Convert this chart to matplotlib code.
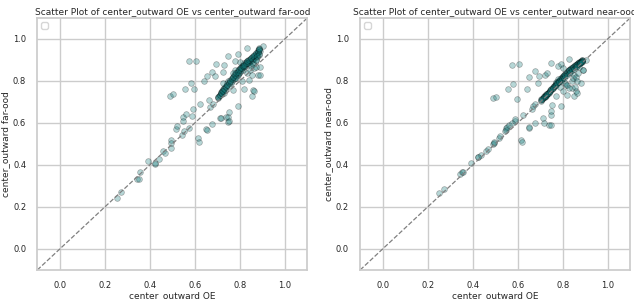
import matplotlib
matplotlib.use("Agg")
import matplotlib.pyplot as plt
import seaborn as sns

sns.set_theme(style="whitegrid")
plt.rcParams['font.family'] = ['DejaVu Sans']

# x: center_outward OE ; far: center_outward far-ood ; near: center_outward near-ood
oe_x = [
    0.252, 0.274, 0.345, 0.352, 0.356, 0.394, 0.422, 0.424, 0.439, 0.459,
    0.468, 0.492, 0.495, 0.496, 0.489, 0.504, 0.516, 0.521, 0.545, 0.548,
    0.548, 0.554, 0.556, 0.560, 0.575, 0.575, 0.581, 0.587, 0.590, 0.596,
    0.607, 0.616, 0.619, 0.622, 0.640, 0.649, 0.652, 0.652, 0.664, 0.667,
    0.676, 0.676, 0.679, 0.689, 0.693, 0.714, 0.717, 0.723, 0.729, 0.740,
    0.748, 0.748, 0.748, 0.751, 0.750, 0.770, 0.779, 0.793, 0.794, 0.818,
    0.830, 0.841, 0.852, 0.859, 0.862, 0.881, 0.904, 0.889, 0.800, 0.815,
    0.702, 0.705, 0.708, 0.712, 0.715, 0.718, 0.720, 0.722, 0.725, 0.728,
    0.730, 0.733, 0.736, 0.740, 0.743, 0.745, 0.748, 0.752, 0.755, 0.758,
    0.760, 0.763, 0.766, 0.770, 0.772, 0.775, 0.778, 0.780, 0.783, 0.786,
    0.790, 0.792, 0.795, 0.798, 0.800, 0.803, 0.806, 0.808, 0.811, 0.814,
    0.817, 0.820, 0.823, 0.826, 0.829, 0.832, 0.835, 0.838, 0.841, 0.844,
    0.847, 0.850, 0.853, 0.856, 0.859, 0.862, 0.865, 0.868, 0.871, 0.874,
    0.877, 0.880, 0.882, 0.884, 0.886, 0.888, 0.885, 0.878, 0.870, 0.860,
    0.790, 0.800, 0.810, 0.820, 0.830, 0.840, 0.845, 0.850, 0.855, 0.860,
    0.865, 0.870, 0.780, 0.770, 0.889, 0.874, 0.722, 0.726, 0.785, 0.830,
    0.704, 0.710, 0.716, 0.724, 0.731, 0.738, 0.744, 0.750, 0.757, 0.764,
    0.771, 0.777, 0.784, 0.791, 0.797, 0.804, 0.812, 0.819, 0.827, 0.834,
    0.842, 0.849, 0.857, 0.864, 0.872, 0.879, 0.883, 0.887, 0.884, 0.876,
]
far_y = [
    0.241, 0.273, 0.335, 0.335, 0.368, 0.421, 0.405, 0.408, 0.427, 0.468,
    0.459, 0.479, 0.519, 0.505, 0.727, 0.738, 0.573, 0.586, 0.544, 0.630,
    0.611, 0.560, 0.762, 0.643, 0.894, 0.575, 0.792, 0.633, 0.665, 0.762,
    0.894, 0.527, 0.510, 0.690, 0.798, 0.570, 0.824, 0.567, 0.711, 0.678,
    0.594, 0.844, 0.690, 0.824, 0.879, 0.624, 0.622, 0.844, 0.876, 0.630,
    0.920, 0.630, 0.606, 0.654, 0.611, 0.757, 0.895, 0.681, 0.929, 0.760,
    0.959, 0.805, 0.729, 0.757, 0.754, 0.829, 0.967, 0.868, 0.892, 0.852,
    0.718, 0.724, 0.730, 0.735, 0.742, 0.748, 0.738, 0.752, 0.760, 0.745,
    0.765, 0.770, 0.758, 0.775, 0.790, 0.782, 0.800, 0.778, 0.795, 0.805,
    0.788, 0.812, 0.800, 0.820, 0.808, 0.830, 0.815, 0.838, 0.825, 0.845,
    0.832, 0.850, 0.840, 0.858, 0.845, 0.865, 0.852, 0.870, 0.860, 0.878,
    0.866, 0.885, 0.872, 0.890, 0.880, 0.895, 0.885, 0.900, 0.890, 0.905,
    0.895, 0.910, 0.900, 0.915, 0.905, 0.920, 0.910, 0.925, 0.918, 0.935,
    0.928, 0.945, 0.938, 0.950, 0.955, 0.942, 0.925, 0.912, 0.900, 0.890,
    0.830, 0.860, 0.800, 0.870, 0.840, 0.880, 0.850, 0.870, 0.830, 0.880,
    0.860, 0.900, 0.850, 0.840, 0.829, 0.868, 0.750, 0.789, 0.813, 0.884,
    0.722, 0.732, 0.741, 0.752, 0.762, 0.770, 0.781, 0.790, 0.800, 0.808,
    0.818, 0.826, 0.836, 0.844, 0.853, 0.862, 0.870, 0.878, 0.887, 0.895,
    0.902, 0.909, 0.917, 0.924, 0.932, 0.940, 0.946, 0.952, 0.930, 0.918,
]
near_y = [
    0.265, 0.284, 0.357, 0.368, 0.368, 0.411, 0.437, 0.440, 0.447, 0.468,
    0.478, 0.500, 0.505, 0.510, 0.720, 0.725, 0.530, 0.540, 0.560, 0.575,
    0.565, 0.580, 0.760, 0.590, 0.876, 0.600, 0.786, 0.610, 0.620, 0.713,
    0.879, 0.520, 0.510, 0.640, 0.760, 0.575, 0.818, 0.580, 0.668, 0.680,
    0.598, 0.848, 0.690, 0.792, 0.825, 0.622, 0.600, 0.829, 0.840, 0.590,
    0.887, 0.640, 0.655, 0.687, 0.590, 0.730, 0.870, 0.681, 0.880, 0.733,
    0.905, 0.765, 0.726, 0.750, 0.745, 0.790, 0.900, 0.850, 0.860, 0.780,
    0.705, 0.712, 0.715, 0.718, 0.722, 0.728, 0.725, 0.730, 0.735, 0.733,
    0.738, 0.742, 0.745, 0.748, 0.752, 0.755, 0.760, 0.762, 0.768, 0.770,
    0.775, 0.778, 0.782, 0.785, 0.790, 0.792, 0.795, 0.800, 0.802, 0.805,
    0.808, 0.812, 0.815, 0.818, 0.820, 0.825, 0.828, 0.830, 0.834, 0.838,
    0.840, 0.842, 0.846, 0.850, 0.852, 0.855, 0.858, 0.860, 0.863, 0.866,
    0.868, 0.870, 0.872, 0.875, 0.878, 0.880, 0.882, 0.885, 0.886, 0.888,
    0.890, 0.892, 0.895, 0.897, 0.900, 0.898, 0.893, 0.889, 0.884, 0.876,
    0.770, 0.750, 0.790, 0.780, 0.765, 0.800, 0.812, 0.830, 0.770, 0.820,
    0.800, 0.840, 0.808, 0.795, 0.850, 0.868, 0.728, 0.738, 0.800, 0.852,
    0.708, 0.716, 0.722, 0.730, 0.738, 0.745, 0.752, 0.760, 0.767, 0.774,
    0.781, 0.788, 0.795, 0.802, 0.808, 0.815, 0.823, 0.830, 0.838, 0.845,
    0.852, 0.859, 0.866, 0.873, 0.880, 0.886, 0.890, 0.895, 0.892, 0.884,
]

targets = [("far-ood", far_y), ("near-ood", near_y)]

fig = plt.figure(figsize=(6.34, 2.99), dpi=100)
positions = [[0.0588, 0.097, 0.426, 0.843], [0.568, 0.097, 0.426, 0.843]]

for pos, (name, ys) in zip(positions, targets):
    ax = fig.add_axes(pos)
    ax.scatter(oe_x, ys, s=17, c='#107878', edgecolors='black', linewidths=0.5, alpha=0.3)
    ax.plot([-0.1, 1.1], [-0.1, 1.1], linestyle='--', color='grey', linewidth=0.9)
    ax.set_xlim(-0.1, 1.1)
    ax.set_ylim(-0.1, 1.1)
    ax.set_xticks([0.0, 0.2, 0.4, 0.6, 0.8, 1.0])
    ax.set_yticks([0.0, 0.2, 0.4, 0.6, 0.8, 1.0])
    ax.tick_params(labelsize=6, pad=2)
    ax.set_xlabel("center_outward OE", fontsize=6.5, labelpad=1)
    ax.set_ylabel(f"center_outward {name}", fontsize=6.5, labelpad=2)
    ax.set_title(f"Scatter Plot of center_outward OE vs center_outward {name}", fontsize=6.5, pad=3)
    leg = ax.legend(handles=[], loc='upper left', fontsize=6)

fig.savefig("out.png", dpi=100)
